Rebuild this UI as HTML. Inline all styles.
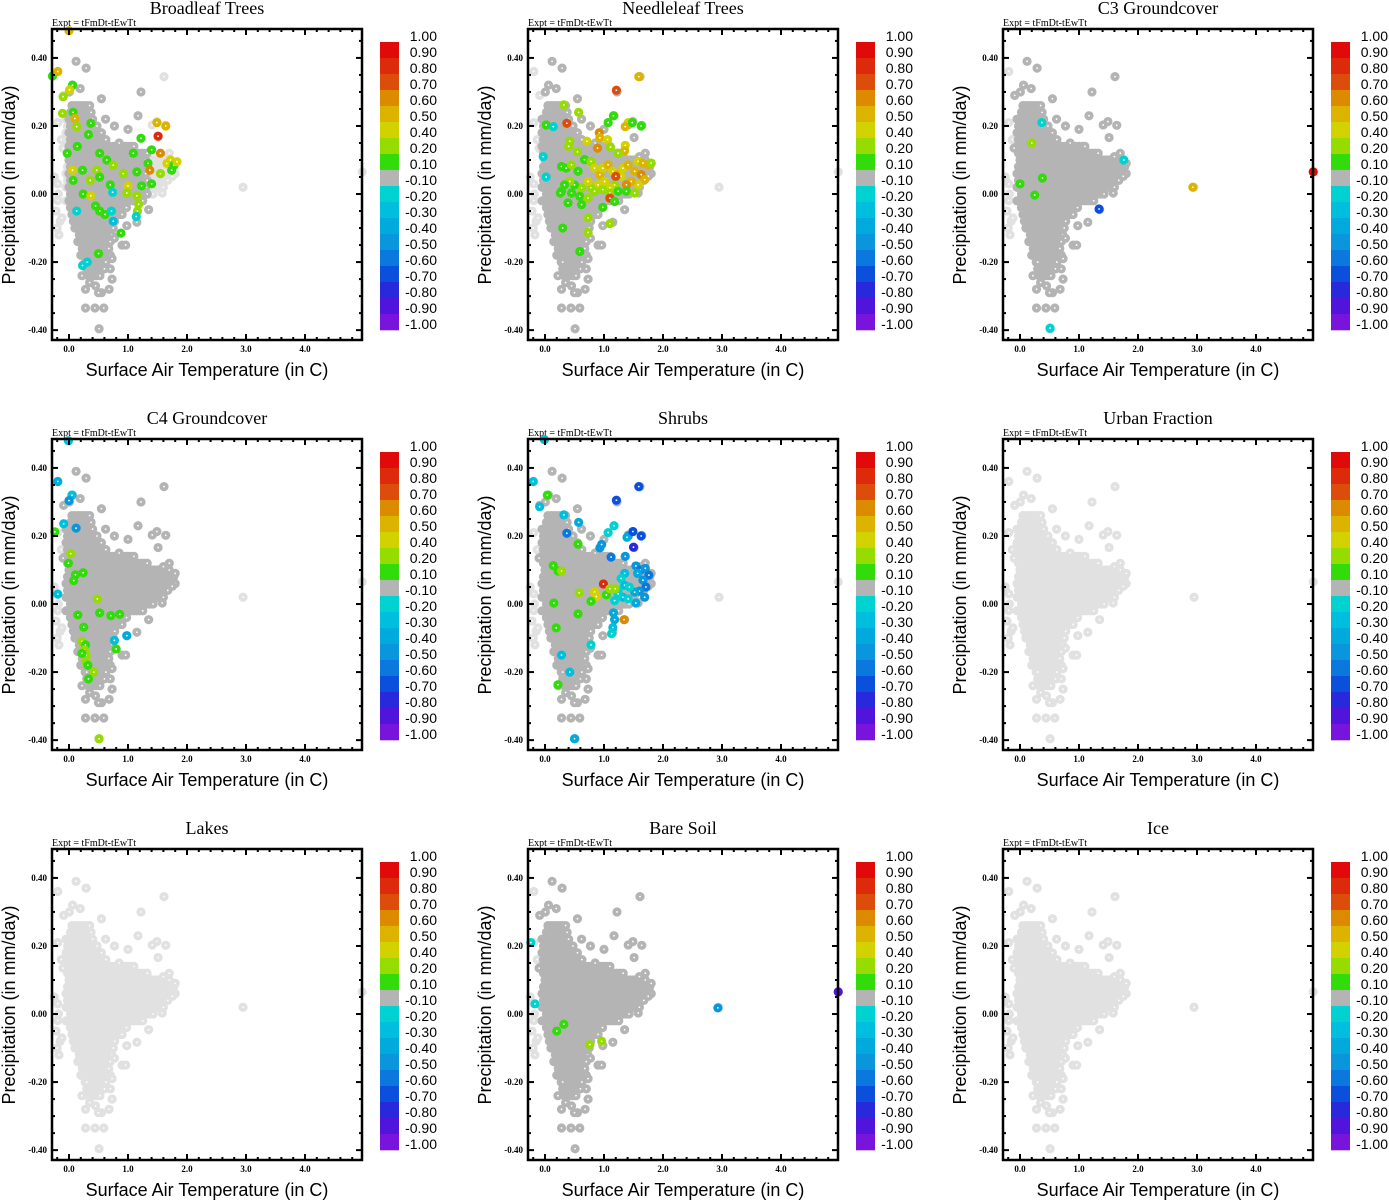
<!DOCTYPE html>
<html><head><meta charset="utf-8"><style>
html,body{margin:0;padding:0;background:#fff;}
svg{display:block;}
</style></head><body>
<svg id="chart" width="1389" height="1200" viewBox="0 0 1389 1200" xmlns="http://www.w3.org/2000/svg"></svg>
<script>
// ---- data ----
const panelTitles = ["Broadleaf Trees","Needleleaf Trees","C3 Groundcover","C4 Groundcover","Shrubs","Urban Fraction","Lakes","Bare Soil","Ice"];
const panelDarkMinX = [0.0,-0.08,-0.1,-0.1,-0.1,null,null,-0.1,null];
const panelDarkMaxX = [1.35,1.85,1.85,1.85,1.85,null,null,1.85,null];
const xTicks = [0,1,2,3,4];
const xTickLabels = ["0.0","1.0","2.0","3.0","4.0"];
const yTicks = [0.4,0.2,0,-0.2,-0.4];
const yTickLabels = ["0.40","0.20","0.00","-0.20","-0.40"];
const cbBounds = [1.0,0.9,0.8,0.7,0.6,0.5,0.4,0.2,0.1,-0.1,-0.2,-0.3,-0.4,-0.5,-0.6,-0.7,-0.8,-0.9,-1.0];
const cbLabels = ["1.00","0.90","0.80","0.70","0.60","0.50","0.40","0.20","0.10","-0.10","-0.20","-0.30","-0.40","-0.50","-0.60","-0.70","-0.80","-0.90","-1.00"];
const cbColors = ["#e00a0a","#dc2a0a","#dc4c0a","#dc8a00","#dcb400","#d2d200","#96dc00","#32dc0a","#b4b4b4","#00d2d2","#00bede","#00aadc","#0a96dc","#0a78dc","#0a50dc","#2828dc","#5014dc","#7814dc"];
// cloud core rows
const cloudRowY = [0.26,0.24,0.22,0.20,0.18,0.16,0.14,0.12,0.10,0.08,0.06,0.04,0.02,0.00,-0.02,-0.04,-0.06,-0.08,-0.10,-0.12,-0.14,-0.16,-0.18,-0.20,-0.22,-0.24];
const cloudRowXmin = [0.05,0.0,-0.05,-0.05,-0.05,-0.05,-0.05,-0.05,0.0,-0.05,-0.05,-0.05,-0.05,0.0,-0.05,0.0,0.05,0.05,0.1,0.15,0.15,0.2,0.2,0.25,0.3,0.3];
const cloudRowXmax = [0.35,0.38,0.42,0.5,0.55,0.65,1.1,1.35,1.7,1.8,1.8,1.7,1.6,1.45,1.25,1.0,0.9,0.8,0.78,0.75,0.72,0.7,0.7,0.65,0.6,0.55];
// cloud outliers
const cloudX = [0.12,0.29,-0.19,1.61,0.06,0.006,0.19,-0.09,0.55,1.22,-0.19,1.17,0.77,1.41,1.49,1.64,1.51,-0.13,-0.10,1.60,1.70,1.80,1.75,1.58,1.35,-0.19,-0.19,-0.17,0.98,1.15,0.90,0.96,0.77,0.73,0.70,0.73,0.22,0.28,0.45,0.55,0.68,0.50,0.28,0.44,0.59,0.51,2.95,4.97,-0.25,-0.22,-0.15,-0.2,-0.12,-0.18,0.85,1.0,0.35,0.30,0.62];
const cloudY = [0.39,0.37,0.36,0.345,0.32,0.30,0.31,0.29,0.28,0.30,0.21,0.23,0.20,0.203,0.213,0.202,0.166,0.16,0.135,0.11,0.12,0.09,0.052,0.003,-0.046,0.03,-0.019,-0.12,-0.093,-0.083,-0.15,-0.15,-0.13,-0.19,-0.22,-0.25,-0.24,-0.28,-0.27,-0.29,-0.28,-0.29,-0.335,-0.335,-0.335,-0.396,0.02,0.065,0.05,-0.05,-0.08,-0.1,-0.07,0.0,0.15,0.19,-0.26,-0.2,0.22];
// colored points per panel: x, y, value
const colX = [
 [-0.28,-0.19,0.0,0.06,0.01,-0.1,-0.11,0.07,0.1,0.13,0.37,0.33,1.49,1.64,1.51,1.22,1.40,1.55,0.14,-0.03,0.52,0.64,1.09,1.34,1.66,1.72,1.78,1.83,0.06,0.23,0.47,0.75,0.92,1.15,1.37,1.55,1.74,0.07,0.36,0.52,0.7,1.0,1.23,1.4,0.24,0.37,0.74,0.98,1.15,1.18,1.16,1.14,0.45,0.52,0.61,0.72,0.13,0.75,0.88,0.5,0.23,0.31],
 [1.59,1.21,0.32,0.57,0.02,0.14,0.37,1.16,1.07,1.41,1.36,1.48,1.63,0.92,0.93,1.06,0.71,0.42,0.40,0.89,1.11,1.36,1.35,1.24,0.55,-0.03,0.02,
  0.28,0.36,0.45,0.56,0.67,0.78,0.84,0.93,0.98,1.07,1.15,1.24,1.32,1.41,1.52,1.58,1.66,1.75,1.80,1.63,1.69,1.58,1.46,1.38,1.29,1.18,1.10,1.01,0.90,0.78,0.73,0.62,0.50,0.42,0.33,0.28,0.45,0.59,0.73,0.84,0.98,1.10,1.24,1.38,1.52,0.39,0.62,0.98,1.10,1.18,1.20,0.26,0.73,1.10,0.73,0.30,0.59],
 [0.37,0.2,0.0,0.38,0.25,1.34,2.93,4.97,0.51,1.76],
 [-0.19,0.05,0.0,-0.09,0.12,-0.24,0.03,-0.01,0.11,0.08,0.24,-0.19,0.48,0.15,0.52,0.71,0.86,0.25,0.22,0.28,0.26,0.29,0.22,0.77,0.98,0.80,0.29,0.32,0.42,0.33,0.51,-0.01],
 [-0.2,1.59,1.21,0.04,-0.09,0.32,0.57,0.37,1.17,1.07,1.41,1.39,1.49,1.63,1.50,0.56,0.93,0.96,1.12,1.36,1.54,1.62,1.70,1.76,1.57,1.66,1.71,1.60,1.52,1.69,1.54,1.35,1.29,1.35,1.43,1.24,1.32,1.41,1.18,1.24,1.16,1.18,1.15,1.13,1.34,0.99,0.84,0.87,0.78,1.04,1.10,1.19,0.58,0.14,0.22,0.28,0.15,0.56,0.19,0.22,0.78,0.28,0.42,0.5,-0.01],
 [],[],
 [2.93,4.97,0.76,0.96,0.32,0.2,-0.17,-0.24],
 []
];
const colY = [
 [0.347,0.36,0.48,0.32,0.306,0.286,0.237,0.24,0.222,0.198,0.208,0.175,0.21,0.2,0.17,0.164,0.13,0.12,0.14,0.12,0.12,0.10,0.12,0.09,0.09,0.10,0.085,0.095,0.07,0.07,0.07,0.085,0.06,0.065,0.07,0.06,0.07,0.04,0.04,0.05,0.027,0.024,0.024,0.03,0.0,-0.005,0.005,0.003,-0.005,-0.03,-0.05,-0.066,-0.035,-0.05,-0.06,-0.05,-0.05,-0.08,-0.115,-0.175,-0.21,-0.2],
 [0.345,0.305,0.262,0.24,0.203,0.198,0.208,0.23,0.21,0.21,0.198,0.21,0.2,0.18,0.165,0.16,0.155,0.155,0.14,0.135,0.138,0.143,0.127,0.12,0.124,0.11,0.05,
  0.081,0.076,0.086,0.067,0.101,0.096,0.076,0.057,0.076,0.086,0.067,0.057,0.076,0.086,0.067,0.096,0.091,0.086,0.091,0.057,0.042,0.027,0.037,0.027,0.052,0.027,0.018,0.037,0.027,0.018,0.037,0.018,0.027,0.037,0.027,0.008,0.003,-0.007,-0.012,0.008,0.013,0.003,0.008,0.008,0.003,-0.026,-0.031,-0.039,-0.012,-0.022,0.052,0.003,-0.07,-0.087,-0.113,-0.1,-0.169],
 [0.21,0.15,0.03,0.047,-0.003,-0.044,0.02,0.065,-0.394,0.1],
 [0.36,0.32,0.304,0.236,0.223,0.212,0.148,0.12,0.086,0.069,0.092,0.029,0.015,-0.032,-0.026,-0.034,-0.03,-0.068,-0.11,-0.12,-0.135,-0.15,-0.145,-0.107,-0.093,-0.132,-0.17,-0.18,-0.2,-0.22,-0.396,0.48],
 [0.36,0.345,0.305,0.32,0.286,0.262,0.24,0.208,0.23,0.21,0.2,0.196,0.213,0.2,0.167,0.176,0.165,0.175,0.138,0.14,0.112,0.1,0.105,0.085,0.09,0.07,0.05,0.038,0.035,0.02,0.003,0.09,0.075,0.055,0.05,0.04,0.02,0.015,0.01,0.03,-0.026,-0.046,-0.069,-0.087,-0.046,0.059,0.035,0.022,0.008,0.027,0.045,0.045,0.033,0.113,0.097,0.097,0.003,-0.029,-0.07,-0.237,-0.12,-0.15,-0.2,-0.396,0.483],
 [],[],
 [0.018,0.065,-0.09,-0.08,-0.03,-0.05,0.03,0.21],
 []
];
const colV = [
 [0.1,0.5,0.5,0.1,0.4,0.2,0.2,0.1,0.5,0.2,0.1,0.1,0.5,0.5,0.8,0.1,0.1,0.6,0.1,0.1,0.1,0.1,0.1,0.1,0.4,0.4,0.1,0.4,0.4,0.1,0.2,0.2,0.2,0.1,0.6,0.2,0.1,0.1,0.2,0.1,0.1,0.4,0.1,0.1,0.1,0.4,-0.2,0.2,0.2,0.2,0.2,-0.2,0.1,0.1,0.1,-0.2,-0.2,-0.3,0.1,0.1,-0.2,-0.2],
 [0.5,0.7,0.2,0.2,0.1,-0.2,0.7,0.1,0.1,0.4,0.5,0.1,0.1,0.6,0.5,0.4,0.4,0.2,0.2,0.6,0.2,0.4,0.5,0.2,0.2,-0.2,-0.2,
  0.1,0.1,0.2,0.1,0.1,0.2,0.4,0.5,0.4,0.5,0.4,0.5,0.4,0.5,0.5,0.4,0.5,0.5,0.2,0.6,0.5,0.4,0.5,0.6,0.4,0.2,0.4,0.4,0.4,0.2,0.4,0.2,0.1,0.2,0.1,0.1,0.1,0.1,0.2,0.2,0.2,0.2,0.1,0.1,0.2,0.1,0.1,0.1,0.7,0.1,0.7,0.1,0.2,0.2,0.2,0.1,0.1],
 [-0.2,0.2,0.1,0.1,0.1,-0.7,0.5,0.9,-0.2,-0.2],
 [-0.4,-0.3,-0.5,-0.3,-0.5,0.1,0.2,0.1,0.1,0.1,0.1,-0.3,0.2,0.1,0.1,0.1,0.1,0.1,0.2,0.1,0.2,0.2,0.1,-0.3,-0.4,0.1,0.2,0.1,0.2,0.1,0.2,-0.3],
 [-0.3,-0.7,-0.7,0.1,-0.3,-0.3,-0.4,-0.6,-0.2,-0.2,-0.5,-0.4,-0.7,-0.7,-0.8,0.1,-0.5,-0.5,-0.6,-0.5,-0.5,-0.6,-0.5,-0.6,-0.4,-0.5,-0.6,-0.5,-0.4,-0.5,-0.4,-0.3,-0.2,-0.3,-0.2,-0.2,-0.3,-0.2,-0.2,-0.2,-0.4,-0.4,-0.3,-0.2,0.6,0.8,0.4,0.4,0.1,0.1,0.2,0.2,0.2,0.1,0.1,0.2,0.1,0.1,0.1,0.1,-0.2,-0.3,-0.3,-0.4,-0.3],
 [],[],
 [-0.5,-0.9,0.2,0.2,0.1,0.1,-0.2,-0.2],
 []
];
// ---- drawing ----
const NS = "http://www.w3.org/2000/svg";
const svg = document.getElementById('chart');
const panelOX = [0,476,951];
const panelOY = [0,410,820];
const BOX = {l:52,r:362,t:29,b:340};
const XMIN=-0.288, XMAX=4.966, YMIN=-0.429, YMAX=0.485;
function mk(tag, attrs, parent){const e=document.createElementNS(NS,tag);for(const k in attrs)e.setAttribute(k,attrs[k]);(parent||svg).appendChild(e);return e;}
function colorFor(v){for(let i=0;i<cbColors.length;i++){const hi=cbBounds[i],lo=cbBounds[i+1];if(v>=lo-1e-9&&v<hi-1e-9)return cbColors[i];}return cbColors[0];}
function marker(g,cx,cy,color){
  const c=mk('circle',{cx:cx,cy:cy,r:4.6,fill:color},g);
  mk('circle',{cx:cx,cy:cy,r:0.9,fill:'#fff'},g);
  return c;
}
function cloudPoints(){
  const pts=[];
  for(let r=0;r<cloudRowY.length;r++){
    for(let x=cloudRowXmin[r]+(r%2)*0.025;x<=cloudRowXmax[r]+1e-9;x+=0.05){pts.push([x,cloudRowY[r]]);}
  }
  for(let i=0;i<cloudX.length;i++)pts.push([cloudX[i],cloudY[i]]);
  return pts;
}
const cloud = cloudPoints();
for(let p=0;p<9;p++){
  const ox=panelOX[p%3], oy=panelOY[Math.floor(p/3)];
  const sx=x=>ox+BOX.l+(x-XMIN)/(XMAX-XMIN)*(BOX.r-BOX.l);
  const sy=y=>oy+BOX.b-(y-YMIN)/(YMAX-YMIN)*(BOX.b-BOX.t);
  const g=mk('g',{});
  
  
  const t=mk('text',{x:ox+207,y:oy+14,'text-anchor':'middle','font-family':'Liberation Serif, serif','font-size':18,fill:'#000'},g);
  t.textContent=panelTitles[p];
  
  
  const ex=mk('text',{x:ox+52,y:oy+26,'font-family':'Liberation Serif, serif','font-size':10,fill:'#000'},g);
  ex.textContent='Expt = tFmDt-tEwTt';
  
  
  const pg=mk('g',{},g);
  
  
  const cp=mk('clipPath',{id:'clip'+p},g);
  mk('rect',{x:ox+BOX.l-5,y:oy+BOX.t-8,width:BOX.r-BOX.l+10,height:BOX.b-BOX.t+12},cp);
  pg.setAttribute('clip-path','url(#clip'+p+')');
  const dmin=panelDarkMinX[p], dmax=panelDarkMaxX[p];
  const light=[],dark=[];
  cloud.forEach(pt=>{ if(dmin!==null && pt[0]>=dmin && pt[0]<=dmax) dark.push(pt); else light.push(pt); });
  light.forEach(pt=>{const m=marker(pg,sx(pt[0]),sy(pt[1]),'#e1e1e1');
    
    });
  dark.forEach(pt=>{const m=marker(pg,sx(pt[0]),sy(pt[1]),'#b4b4b4');
    
    });
  for(let i=0;i<colX[p].length;i++){
    const m=marker(pg,sx(colX[p][i]),sy(colY[p][i]),colorFor(colV[p][i]));
    
    
  }
  const bx=mk('rect',{x:ox+BOX.l,y:oy+BOX.t,width:BOX.r-BOX.l,height:BOX.b-BOX.t,fill:'none',stroke:'#000','stroke-width':2.5},g);
  
  
  for(let v=-0.4;v<=0.46;v+=0.05){
    const yy=sy(v); const major=Math.abs(Math.round(v*100)%20)===0; const L=major?6:3;
    mk('line',{x1:ox+BOX.l,x2:ox+BOX.l+L,y1:yy,y2:yy,stroke:'#000','stroke-width':2},g);
    mk('line',{x1:ox+BOX.r,x2:ox+BOX.r-L,y1:yy,y2:yy,stroke:'#000','stroke-width':2},g);
  }
  for(let v=-0.2;v<=4.9;v+=0.2){
    const xx=sx(v); const major=Math.abs(Math.round(v*10)%10)===0; const L=major?6:3;
    mk('line',{x1:xx,x2:xx,y1:oy+BOX.b,y2:oy+BOX.b-L,stroke:'#000','stroke-width':2},g);
    mk('line',{x1:xx,x2:xx,y1:oy+BOX.t,y2:oy+BOX.t+L,stroke:'#000','stroke-width':2},g);
  }
  yTicks.forEach((v,i)=>{const tt=mk('text',{x:ox+47,y:sy(v)+3,'text-anchor':'end','font-family':'Liberation Serif, serif','font-size':9,'font-weight':'bold',fill:'#000'},g);
    tt.textContent=yTickLabels[i];
    
    });
  xTicks.forEach((v,i)=>{const tt=mk('text',{x:sx(v),y:oy+352,'text-anchor':'middle','font-family':'Liberation Serif, serif','font-size':9,'font-weight':'bold',fill:'#000'},g);
    tt.textContent=xTickLabels[i];
    
    });
  const xt=mk('text',{x:ox+207,y:oy+376,'text-anchor':'middle','font-family':'Liberation Sans, sans-serif','font-size':18,fill:'#000'},g);
  xt.textContent='Surface Air Temperature (in C)';
  
  
  const yt=mk('text',{x:0,y:0,'text-anchor':'middle','font-family':'Liberation Sans, sans-serif','font-size':18,fill:'#000',transform:'translate('+(ox+15)+','+(oy+185)+') rotate(-90)'},g);
  yt.textContent='Precipitation (in mm/day)';
  
  
  const cb=mk('g',{},g);
  
  
  const bh=16.0;
  cbColors.forEach((c,i)=>{const r=mk('rect',{x:ox+380,y:oy+42+i*bh,width:19,height:bh+0.3,fill:c},cb);
    
    });
  cbLabels.forEach((l,i)=>{const tt=mk('text',{x:ox+437,y:oy+41+i*bh,'text-anchor':'end','font-family':'Liberation Sans, sans-serif','font-size':14,fill:'#000'},cb);
    tt.textContent=l;
    
    });
}
</script>
</body></html>
